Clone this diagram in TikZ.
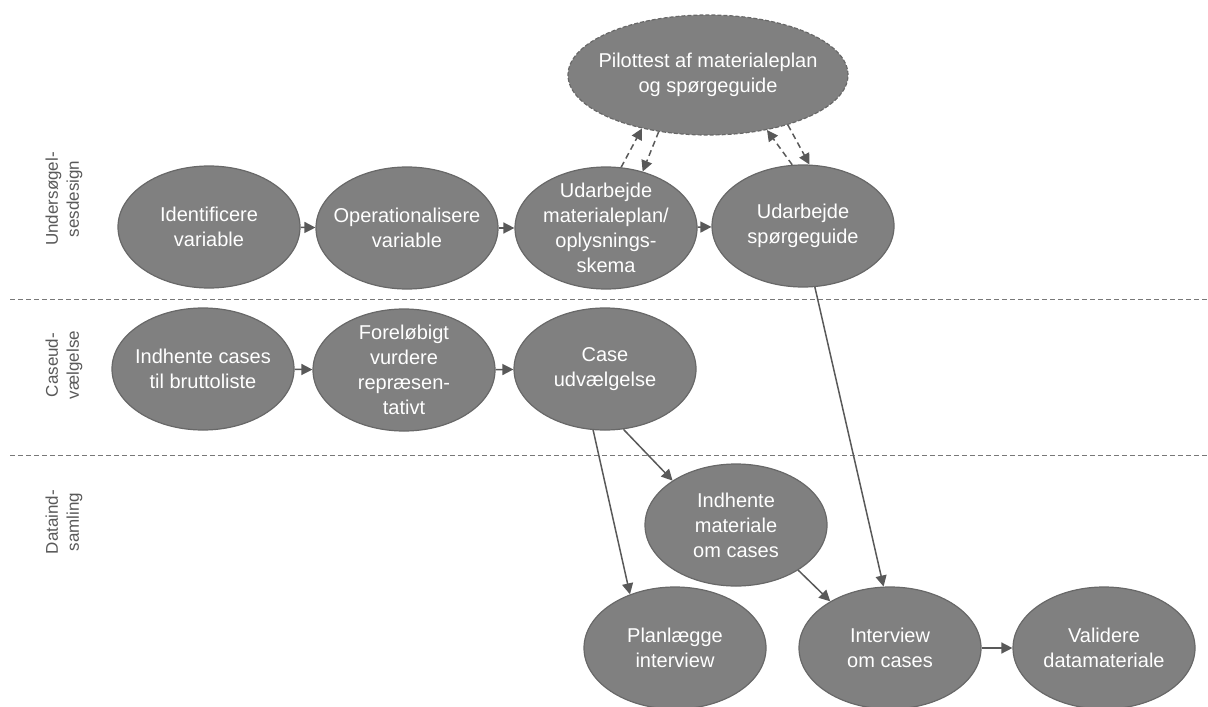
\documentclass[tikz,border=0pt]{standalone}
\usepackage{fontspec}
\setmainfont{Liberation Sans}
\usetikzlibrary{shapes.geometric,arrows.meta}

\definecolor{stepfill}{RGB}{128,128,128}
\definecolor{stepline}{RGB}{104,104,104}
\definecolor{linkcol}{RGB}{89,89,89}
\definecolor{sepcol}{RGB}{120,120,120}
\definecolor{lanetext}{RGB}{89,89,89}

\begin{document}
\begin{tikzpicture}[x=0.5pt,y=-0.5pt,
  % fixed-size ellipses: the negative inner sep keeps the text from growing them
  stepbox/.style={ellipse, draw=stepline, line width=0.6pt, fill=stepfill,
    text=white, align=center, inner xsep=-30pt, inner ysep=-25pt,
    minimum width=91pt, minimum height=61pt,
    font=\fontsize{10}{12.5}\selectfont},
  pilotbox/.style={stepbox, dashed, dash pattern=on 2pt off 1pt,
    minimum width=140pt, minimum height=60pt},
  link/.style={draw=linkcol, line width=0.75pt,
    -{Triangle[length=5.5pt,width=5.5pt]}},
  testlink/.style={link, dash pattern=on 3pt off 2pt},
  lanesep/.style={draw=sepcol, line width=0.5pt, dash pattern=on 2.5pt off 1.5pt},
  lanelabel/.style={rotate=90, align=center, text=lanetext,
    font=\fontsize{8.5}{10.5}\selectfont}
]
\useasboundingbox (0,0) rectangle (1208,706);

% lane separators
\draw[lanesep] (10,299) -- (1208,299);
\draw[lanesep] (10,455) -- (1208,455);

% lane labels
\node[lanelabel] (laneA) at (64,199) {Undersøgel-\\sesdesign};
\node[lanelabel] (laneB) at (64,365) {Caseud-\\vælgelse};
\node[lanelabel] (laneC) at (64,522) {Dataind-\\samling};

% design row
\node[stepbox] (ident) at (209,227) {Identificere\\variable};
\node[stepbox] (oper)  at (407,228) {Operationalisere\\variable};
\node[stepbox] (mat)   at (606,228) {Udarbejde\\materialeplan/\\oplysnings-\\skema};
\node[stepbox] (spg)   at (803,226) {Udarbejde\\spørgeguide};
\node[pilotbox] (pilot) at (708,75) {Pilottest af materialeplan\\og spørgeguide};

% case selection row
\node[stepbox] (indc)  at (203,369) {Indhente cases\\til bruttoliste};
\node[stepbox] (forel) at (404,370) {Foreløbigt\\vurdere\\repræsen-\\tativt};
\node[stepbox] (case)  at (605,369) {Case\\udvælgelse};

% data collection row
\node[stepbox] (indm)  at (736,525) {Indhente\\materiale\\om cases};
\node[stepbox] (plan)  at (675,648) {Planlægge\\interview};
\node[stepbox] (intv)  at (890,648) {Interview\\om cases};
\node[stepbox] (valid) at (1104,648) {Validere\\datamateriale};

% flow
\draw[link] (ident) -- (oper);
\draw[link] (oper) -- (mat);
\draw[link] (mat) -- (spg);
\draw[link] (indc) -- (forel);
\draw[link] (forel) -- (case);
\draw[link] (intv) -- (valid);
\draw[link] (case.-101) -- (plan.130);
\draw[link] (case.-73) -- (indm.145);
\draw[link] (indm.-36) -- (intv.142);
\draw[link] (spg.-79) -- (intv.96);

% pilot test loops
\draw[testlink] (mat.76) -- (pilot.219);
\draw[testlink] (pilot.229) -- (mat.57);
\draw[testlink] (spg.100) -- (pilot.317);
\draw[testlink] (pilot.328) -- (spg.84);
\end{tikzpicture}
\end{document}
